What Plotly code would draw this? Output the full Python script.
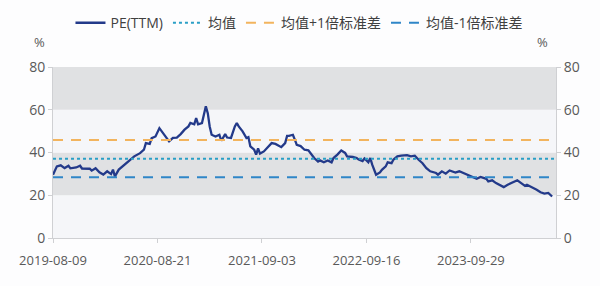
import pandas as pd
import plotly.graph_objects as go

# Weekly PE(TTM) series: week offset from the first observation, and value (%)
start_date = "2019-08-09"
weeks = [0, 2, 4, 6, 8, 9, 12, 14, 15, 19, 20, 22, 24, 26, 28, 30, 31, 32, 34, 37,
         39, 42, 45, 47, 48, 50, 51, 53, 55, 57, 58, 60, 62, 64, 66, 68, 70, 71, 73,
         74, 75, 77, 79, 80, 81, 82, 84, 86, 87, 89, 90, 92, 94, 95, 96, 98, 100, 101,
         102, 104, 105, 106, 107, 109, 111, 113, 115, 118, 120, 121, 122, 124, 125,
         126, 128, 130, 132, 133, 135, 137, 138, 140, 142, 144, 145, 147, 149, 151,
         152, 155, 157, 158, 160, 161, 163, 164, 165, 167, 169, 170, 172, 173, 175,
         176, 178, 180, 182, 183, 185, 187, 189, 191, 193, 195, 198, 199, 201, 203,
         205, 206, 208, 210, 213, 215, 218, 219, 221, 224, 225, 227, 229, 231, 233,
         235, 237, 238, 240, 242, 244, 245, 247, 249, 250, 252, 254, 256, 257, 258]
pe_ttm = [29.6, 33.5, 34.0, 32.7, 33.8, 32.6, 33.0, 33.8, 32.5, 32.4, 31.5, 32.6,
          30.7, 29.7, 31.2, 29.9, 32.0, 28.8, 32.0, 34.3, 35.8, 38.2, 39.7, 41.3,
          44.4, 44.0, 46.7, 47.5, 51.4, 49.0, 47.4, 45.2, 46.8, 47.0, 48.6, 50.7,
          52.2, 53.8, 53.2, 56.1, 53.2, 53.8, 61.6, 58.4, 52.2, 48.3, 47.5, 48.3,
          45.5, 48.6, 47.0, 46.8, 52.2, 53.8, 52.2, 49.9, 46.8, 47.2, 42.9, 41.3,
          39.0, 41.9, 39.5, 40.5, 42.5, 44.4, 44.0, 42.5, 44.4, 47.8, 47.8, 48.3,
          46.0, 43.6, 43.0, 41.3, 41.0, 39.8, 37.4, 35.8, 36.3, 35.4, 36.3, 35.4,
          37.4, 39.0, 40.9, 39.8, 38.2, 37.9, 37.4, 36.7, 36.0, 37.2, 35.4, 37.4,
          34.3, 29.6, 30.7, 31.9, 33.5, 35.4, 35.0, 36.7, 38.2, 38.5, 38.5, 38.8,
          38.2, 38.5, 36.6, 35.0, 32.7, 31.2, 30.4, 29.6, 31.2, 30.1, 31.6, 31.2,
          30.6, 31.2, 30.0, 29.1, 28.0, 27.7, 28.6, 27.7, 26.5, 27.0, 25.7, 24.9,
          23.8, 24.9, 25.7, 26.0, 27.0, 25.7, 24.4, 24.9, 24.1, 23.3, 22.6, 21.4,
          20.8, 21.1, 20.3, 19.4]

# Reference levels
pe_mean = 37.1
pe_plus_1sd = 45.8
pe_minus_1sd = 28.4

# Tick labels on the date axis (every 54 weeks)
tick_weeks = [0, 54, 108, 162, 216]
axis_end_week = 260

# Alternating horizontal bands
band_edges = [0, 20, 40, 60, 80]
band_colors = ["#f5f6f9", "#e0e1e3", "#f5f6f9", "#e0e1e3"]

t0 = pd.Timestamp(start_date)
dates = [t0 + pd.Timedelta(weeks=w) for w in weeks]
tick_dates = [t0 + pd.Timedelta(weeks=w) for w in tick_weeks]
tick_text = [d.strftime("%Y-%m-%d") for d in tick_dates]
x_end = t0 + pd.Timedelta(weeks=axis_end_week)
span = [t0, x_end]

font_family = "Open Sans, Noto Sans CJK SC, sans-serif"
text_color = "#595959"

fig = go.Figure()
fig.add_trace(go.Scatter(x=dates, y=pe_ttm, mode="lines", name="PE(TTM)",
                         line=dict(color="#233a8a", width=2.3)))
fig.add_trace(go.Scatter(x=span, y=[pe_mean] * 2, mode="lines", name="均值",
                         line=dict(color="#2a9fc6", width=2, dash="dot")))
fig.add_trace(go.Scatter(x=span, y=[pe_plus_1sd] * 2, mode="lines", name="均值+1倍标准差",
                         line=dict(color="#f2b45e", width=2, dash="10px,8px")))
fig.add_trace(go.Scatter(x=span, y=[pe_minus_1sd] * 2, mode="lines", name="均值-1倍标准差",
                         line=dict(color="#2f86c8", width=2, dash="10px,8px")))
# mirror axis on the right
fig.add_trace(go.Scatter(x=span, y=[pe_mean] * 2, mode="lines", yaxis="y2",
                         line=dict(width=0), opacity=0, showlegend=False, hoverinfo="skip"))

shapes = []
for i, c in enumerate(band_colors):
    shapes.append(dict(type="rect", xref="paper", yref="y", x0=0, x1=1,
                       y0=band_edges[i], y1=band_edges[i + 1],
                       fillcolor=c, line=dict(width=0), layer="below"))

axis_common = dict(range=[0, 80], tickvals=band_edges, showgrid=False, zeroline=False,
                   showline=True, linecolor="#cfd0d3", linewidth=1,
                   ticks="outside", ticklen=4, tickcolor="#cfd0d3",
                   tickfont=dict(size=14, color=text_color, family=font_family))

fig.update_layout(
    width=600, height=286,
    margin=dict(l=53, r=44, t=67, b=48),
    paper_bgcolor="#fdfdfe", plot_bgcolor="#fdfdfe",
    font=dict(family=font_family, color=text_color, size=13),
    shapes=shapes,
    xaxis=dict(type="date", range=span, tickvals=tick_dates, ticktext=tick_text,
               showgrid=False, zeroline=False, showline=True, linecolor="#cfd0d3",
               ticks="outside", ticklen=4, tickcolor="#cfd0d3", ticklabelstandoff=6,
               tickfont=dict(size=13, color=text_color, family=font_family)),
    yaxis=dict(side="left", **axis_common),
    yaxis2=dict(side="right", overlaying="y", **axis_common),
    legend=dict(orientation="h", x=0.49, xanchor="center", y=0.975, yref="container",
                yanchor="top", font=dict(size=14, color="#404040", family=font_family),
                bgcolor="rgba(0,0,0,0)", itemwidth=30, tracegroupgap=0),
    annotations=[
        dict(text="%", xref="paper", yref="paper", x=-0.026, y=1.146, showarrow=False,
             xanchor="center", yanchor="middle", font=dict(size=13, color=text_color)),
        dict(text="%", xref="paper", yref="paper", x=0.974, y=1.146, showarrow=False,
             xanchor="center", yanchor="middle", font=dict(size=13, color=text_color)),
    ],
)

fig.write_html("out.html")
